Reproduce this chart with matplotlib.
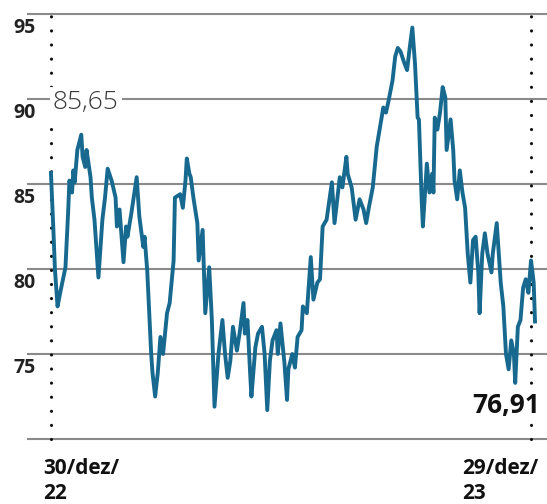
import numpy as np
import matplotlib
matplotlib.use("Agg")
import matplotlib.pyplot as plt

plt.rcParams['font.family'] = ['Open Sans', 'DejaVu Sans']

# days since 30/dez/22 and index value
days = [0, 2, 3, 5, 7, 11, 13, 14, 16, 17, 18, 20, 23, 24, 26, 27, 30, 31, 33, 36,
        39, 41, 43, 46, 49, 50, 52, 55, 57, 58, 61, 65, 67, 70, 71, 73, 76, 77, 79, 81,
        83, 85, 88, 90, 93, 94, 98, 100, 102, 103, 105, 106, 108, 111, 112, 115, 117, 120, 122, 124,
        127, 130, 132, 134, 136, 138, 141, 143, 146, 147, 149, 151, 152, 155, 157, 160, 162, 164, 166, 168,
        171, 172, 174, 177, 179, 180, 183, 185, 187, 190, 191, 194, 197, 199, 202, 204, 206, 209, 213, 215,
        219, 221, 224, 225, 228, 231, 234, 237, 239, 241, 244, 247, 252, 254, 256, 259, 261, 263, 265, 268,
        270, 272, 274, 276, 278, 279, 281, 282, 285, 287, 289, 290, 291, 293, 295, 297, 299, 300, 303, 305,
        306, 308, 310, 312, 314, 316, 318, 320, 322, 324, 325, 327, 329, 331, 334, 335, 338, 341, 343, 345,
        347, 349, 351, 352, 354, 356, 358, 360, 362, 364, 366, 367]
values = [85.65, 82.0, 80.0, 77.8, 78.6, 80.1, 83.3, 85.2, 84.5, 85.8, 85.1, 87.0, 87.9, 86.6, 86.0, 87.0, 85.4, 84.2, 82.9, 79.5,
          82.9, 84.2, 85.9, 85.2, 84.2, 82.5, 83.5, 80.4, 82.5, 81.9, 83.3, 85.4, 83.1, 81.3, 81.9, 79.9, 75.0, 73.9, 72.5, 73.9,
          76.0, 75.0, 77.4, 78.0, 80.5, 84.2, 84.4, 83.6, 85.2, 86.5, 85.6, 85.4, 84.2, 82.7, 80.5, 82.3, 77.4, 80.1, 77.0, 71.9,
          75.0, 77.0, 75.0, 73.6, 74.6, 76.6, 75.2, 76.2, 78.0, 76.2, 77.0, 73.9, 72.5, 75.4, 76.2, 76.6, 75.0, 71.7, 74.6, 75.8,
          76.4, 75.0, 76.8, 74.5, 72.3, 74.1, 75.0, 74.2, 76.0, 76.4, 77.8, 77.4, 80.7, 78.2, 79.2, 79.4, 82.5, 82.9, 85.1, 82.7,
          85.4, 84.8, 86.6, 85.6, 84.8, 82.9, 84.1, 83.5, 82.7, 83.6, 84.8, 87.2, 89.5, 89.2, 89.9, 91.1, 92.5, 93.0, 92.8, 92.1,
          91.7, 93.0, 94.2, 92.1, 88.9, 88.8, 84.2, 82.5, 86.2, 84.5, 85.6, 84.5, 88.9, 88.2, 89.2, 90.7, 90.1, 87.0, 88.8, 87.0,
          85.2, 84.1, 85.8, 84.5, 83.6, 80.9, 79.2, 81.7, 81.9, 79.8, 77.4, 80.9, 82.1, 80.9, 79.8, 80.9, 82.7, 79.2, 77.8, 75.0,
          74.1, 75.8, 75.0, 73.3, 76.6, 77.0, 78.9, 79.4, 78.6, 80.5, 79.2, 76.91]

grid_levels = [70, 75, 80, 85, 90, 95]
y_labels = [75, 80, 85, 90, 95]
start_label = "30/dez/\n22"
end_label = "29/dez/\n23"
start_value = "85,65"
end_value = "76,91"

line_color = "#17698f"
grid_color = "#8a8a8a"

fig = plt.figure(figsize=(5.47, 5.04), dpi=100)
ax = fig.add_axes([28 / 547, 65 / 504, 519 / 547, 425 / 504])
ax.set_xlim(-17.4, 376.1)
ax.set_ylim(70, 95)
ax.axis("off")

for g in grid_levels:
    ax.axhline(g, color=grid_color, lw=1.5, zorder=1, clip_on=False)

for d in (0, 364):
    ax.axvline(d, color="#111111", lw=2.3, linestyle=(0, (0.01, 4.4)),
               dash_capstyle="round", zorder=2, clip_on=False)

ax.plot(days, values, color=line_color, lw=2.8, solid_joinstyle="round", zorder=3)

for v in y_labels:
    ax.text(-11.5, v - 0.8, str(v), ha="right", va="center",
            fontsize=14, fontweight="bold", color="#222222")

ax.text(1.5, 89.8, start_value, ha="left", va="center", fontsize=19,
        fontweight="light", color="#3a3a3a", zorder=4,
        bbox=dict(facecolor="white", edgecolor="none", pad=2))
ax.text(370.8, 71.95, end_value, ha="right", va="center", fontsize=19,
        fontweight="bold", color="#111111", zorder=4,
        bbox=dict(facecolor="white", edgecolor="none", pad=0.5))

ax.text(-6, 68.9, start_label, ha="left", va="top", fontsize=15,
        fontweight="bold", color="#111111", linespacing=1.3)
ax.text(369.3, 68.9, end_label, ha="right", va="top", multialignment="left",
        fontsize=15, fontweight="bold", color="#111111", linespacing=1.3)

fig.savefig("out.png", dpi=100, facecolor="white")
